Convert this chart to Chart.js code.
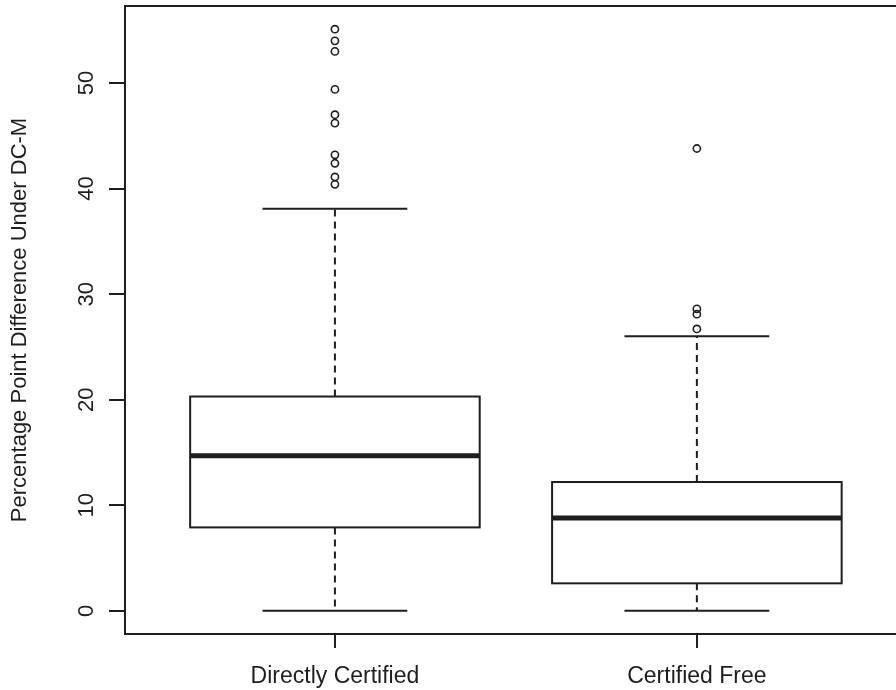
<!DOCTYPE html>
<html>
<head>
<meta charset="utf-8">
<script src="https://cdn.jsdelivr.net/npm/chart.js@4/dist/chart.umd.min.js"></script>
<style>
  html, body { margin: 0; padding: 0; background: #fff; overflow: hidden; }
  #wrap { position: absolute; left: 0; top: 0; width: 912px; height: 690px; }
</style>
</head>
<body>
<div id="wrap"><canvas id="c" width="912" height="690"></canvas></div>
<script>
// Groups and their five-number summaries
const categories = ['Directly Certified', 'Certified Free'];
const whiskerLow = [0, 0];
const lowerQuartile = [7.9, 2.6];
const medians = [14.7, 8.8];
const upperQuartile = [20.3, 12.2];
const whiskerHigh = [38.1, 26.0];

// Points beyond the whiskers
const outliersDirect = [40.4, 41.1, 42.4, 43.2, 46.2, 47.0, 49.4, 53.0, 54.0, 55.1];
const outliersFree = [26.7, 28.1, 28.6, 43.8];

const yTicks = [0, 10, 20, 30, 40, 50];
const yTitle = 'Percentage Point Difference Under DC-M';

const INK = '#1e1e1e';
const FONT = '"Liberation Sans", Arial, sans-serif';

const outlierPoints = [];
outliersDirect.forEach(v => outlierPoints.push({ x: 1, y: v }));
outliersFree.forEach(v => outlierPoints.push({ x: 2, y: v }));

// Boxes, whiskers and medians drawn through the chart's scales
const boxPlugin = {
  id: 'boxes',
  beforeDatasetsDraw(chart) {
    const { ctx, scales: { x, y } } = chart;
    ctx.save();
    ctx.strokeStyle = INK;
    categories.forEach((name, i) => {
      const c = i + 1;
      const xl = x.getPixelForValue(c - 0.4), xr = x.getPixelForValue(c + 0.4);
      const cl = x.getPixelForValue(c - 0.2), cr = x.getPixelForValue(c + 0.2);
      const xc = x.getPixelForValue(c);
      const yLo = y.getPixelForValue(whiskerLow[i]);
      const yQ1 = y.getPixelForValue(lowerQuartile[i]);
      const yMd = y.getPixelForValue(medians[i]);
      const yQ3 = y.getPixelForValue(upperQuartile[i]);
      const yHi = y.getPixelForValue(whiskerHigh[i]);
      // dashed whiskers
      ctx.lineWidth = 2;
      ctx.setLineDash([7, 5]);
      ctx.beginPath();
      ctx.moveTo(xc, yQ3); ctx.lineTo(xc, yHi);
      ctx.moveTo(xc, yQ1); ctx.lineTo(xc, yLo);
      ctx.stroke();
      ctx.setLineDash([]);
      // caps
      ctx.beginPath();
      ctx.moveTo(cl, yHi); ctx.lineTo(cr, yHi);
      ctx.moveTo(cl, yLo); ctx.lineTo(cr, yLo);
      ctx.stroke();
      // box
      ctx.fillStyle = '#fff';
      ctx.fillRect(xl, yQ3, xr - xl, yQ1 - yQ3);
      ctx.strokeRect(xl, yQ3, xr - xl, yQ1 - yQ3);
      // median
      ctx.lineWidth = 5;
      ctx.beginPath();
      ctx.moveTo(xl, yMd); ctx.lineTo(xr, yMd);
      ctx.stroke();
    });
    ctx.restore();
  },
  afterDraw(chart) {
    const { ctx, chartArea: a, scales: { y } } = chart;
    ctx.save();
    // plot frame
    ctx.strokeStyle = INK;
    ctx.lineWidth = 2;
    ctx.strokeRect(a.left, a.top, a.right - a.left, a.bottom - a.top);
    // rotated y tick labels
    ctx.fillStyle = INK;
    ctx.font = '22px ' + FONT;
    ctx.textAlign = 'center';
    ctx.textBaseline = 'alphabetic';
    yTicks.forEach(v => {
      ctx.save();
      ctx.translate(a.left - 32, y.getPixelForValue(v));
      ctx.rotate(-Math.PI / 2);
      ctx.fillText(String(v), 0, 0);
      ctx.restore();
    });
    ctx.restore();
  }
};

new Chart(document.getElementById('c'), {
  type: 'scatter',
  data: {
    datasets: [{
      data: outlierPoints,
      pointStyle: 'circle',
      pointRadius: 3.6,
      pointBorderWidth: 1.6,
      borderColor: INK,
      backgroundColor: 'rgba(0,0,0,0)',
      pointHoverRadius: 3.6
    }]
  },
  options: {
    responsive: false,
    animation: false,
    layout: { padding: { top: 6, right: 5, left: 0, bottom: 0 } },
    plugins: { legend: { display: false }, tooltip: { enabled: false } },
    scales: {
      x: {
        type: 'linear',
        min: 0.42,
        max: 2.58,
        afterBuildTicks(s) { s.ticks = categories.map((n, i) => ({ value: i + 1 })); },
        afterFit(s) { s.height = 56; },
        border: { display: false },
        grid: { drawOnChartArea: false, drawTicks: true, tickLength: 14, color: INK, lineWidth: 2 },
        ticks: {
          color: INK,
          font: { family: FONT, size: 23 },
          padding: 15,
          maxRotation: 0,
          autoSkip: false,
          callback: v => categories[Math.round(v) - 1]
        }
      },
      y: {
        type: 'linear',
        min: -2.2,
        max: 57.3,
        afterBuildTicks(s) { s.ticks = yTicks.map(v => ({ value: v })); },
        afterFit(s) { s.width = 125; },
        border: { display: false },
        grid: { drawOnChartArea: false, drawTicks: true, tickLength: 16, color: INK, lineWidth: 2 },
        ticks: { display: false },
        title: {
          display: true,
          text: yTitle,
          color: INK,
          font: { family: FONT, size: 22 },
          padding: { top: 7, bottom: 0 }
        }
      }
    }
  },
  plugins: [boxPlugin]
});
</script>
</body>
</html>
